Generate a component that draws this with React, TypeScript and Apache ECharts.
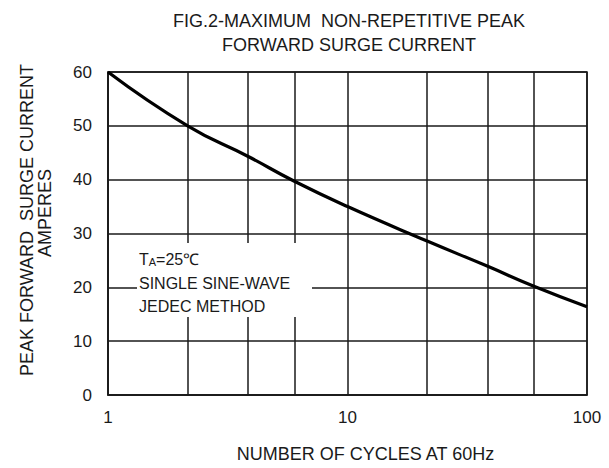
import React, { useEffect, useRef } from "react";
import * as echarts from "echarts";

const cycles = [1, 2.15, 3.85, 6, 10, 21.5, 38.5, 60, 100];
const surgeCurrent = [60, 50, 44.3, 39.7, 35, 28.6, 23.9, 20.2, 16.4];
const minorGridX = [2.15, 3.85, 6, 21.5, 38.5, 60];
const titleLines = ["FIG.2-MAXIMUM  NON-REPETITIVE PEAK", "FORWARD SURGE CURRENT"];
const xName = "NUMBER OF CYCLES AT 60Hz";
const yNameLines = ["PEAK FORWARD  SURGE CURRENT", "AMPERES"];
const noteLines = ["SINGLE SINE-WAVE", "JEDEC METHOD"];

const FONT = '"Liberation Sans", Arial, sans-serif';
const INK = "#1a1a1a";

export default function App() {
  const ref = useRef<HTMLDivElement>(null);
  useEffect(() => {
    if (!ref.current) return;
    const chart = echarts.init(ref.current, null, { renderer: "svg" });
    const data = cycles.map((c, i) => [c, surgeCurrent[i]]);
    chart.setOption({
      animation: false,
      backgroundColor: "#ffffff",
      textStyle: { fontFamily: FONT },
      title: {
        text: titleLines.join("\n"),
        left: 344,
        top: 4,
        textAlign: "center",
        textStyle: { fontFamily: FONT, fontSize: 18, fontWeight: "normal", color: INK, lineHeight: 24 },
      },
      grid: {
        left: 108,
        right: 22,
        top: 72,
        bottom: 72,
        show: true,
        borderColor: INK,
        borderWidth: 1.5,
        backgroundColor: "transparent",
      },
      xAxis: {
        type: "log",
        logBase: 10,
        min: 1,
        max: 100,
        name: xName,
        nameLocation: "middle",
        nameGap: 50,
        nameTextStyle: { fontFamily: FONT, fontSize: 18, color: INK, padding: [0, 0, 0, 36] },
        axisLine: { show: true, lineStyle: { color: INK, width: 1.5 } },
        axisTick: { show: false },
        minorTick: { show: false },
        axisLabel: { fontFamily: FONT, fontSize: 17, color: INK, margin: 14 },
        splitLine: { show: true, lineStyle: { color: INK, width: 1.5 } },
      },
      yAxis: {
        type: "value",
        min: 0,
        max: 60,
        interval: 10,
        axisLine: { show: true, lineStyle: { color: INK, width: 1.5 } },
        axisTick: { show: false },
        axisLabel: { fontFamily: FONT, fontSize: 17, color: INK, margin: 16 },
        splitLine: { show: true, lineStyle: { color: INK, width: 1.5 } },
      },
      series: [
        {
          type: "line",
          data,
          smooth: 0.5,
          showSymbol: false,
          lineStyle: { color: "#000000", width: 3.2 },
          z: 5,
          markLine: {
            silent: true,
            symbol: "none",
            label: { show: false },
            lineStyle: { color: INK, width: 1.5, type: "solid" },
            data: minorGridX.map((v) => ({ xAxis: v })),
            z: 1,
          },
        },
      ],
      graphic: [
        {
          type: "rect",
          z: 100,
          shape: { x: 137, y: 243, width: 175, height: 74 },
          style: { fill: "#ffffff" },
        },
        {
          type: "text",
          z: 101,
          x: 139,
          y: 259,
          style: {
            text: "T{s|A}=25℃",
            font: `16px ${FONT}`,
            fill: INK,
            verticalAlign: "middle",
            rich: {
              s: { fontSize: 11, fontFamily: FONT, fill: INK, verticalAlign: "bottom", padding: [4, 0, 0, 0] },
            },
          } as any,
        },
        ...noteLines.map((t, i) => ({
          type: "text",
          z: 101,
          x: 139,
          y: 283 + i * 23,
          style: { text: t, font: `16px ${FONT}`, fill: INK, verticalAlign: "middle" },
        })),
        ...yNameLines.map((t, i) => ({
          type: "text",
          z: 101,
          x: i === 0 ? 27 : 45,
          y: i === 0 ? 220 : 213,
          rotation: Math.PI / 2,
          style: { text: t, font: `18px ${FONT}`, fill: INK, align: "center", verticalAlign: "middle" },
        })),
      ],
    });
    return () => chart.dispose();
  }, []);
  return (
    <div
      ref={ref}
      style={{ position: "fixed", left: 0, top: 0, width: 609, height: 468, background: "#fff" }}
    />
  );
}
